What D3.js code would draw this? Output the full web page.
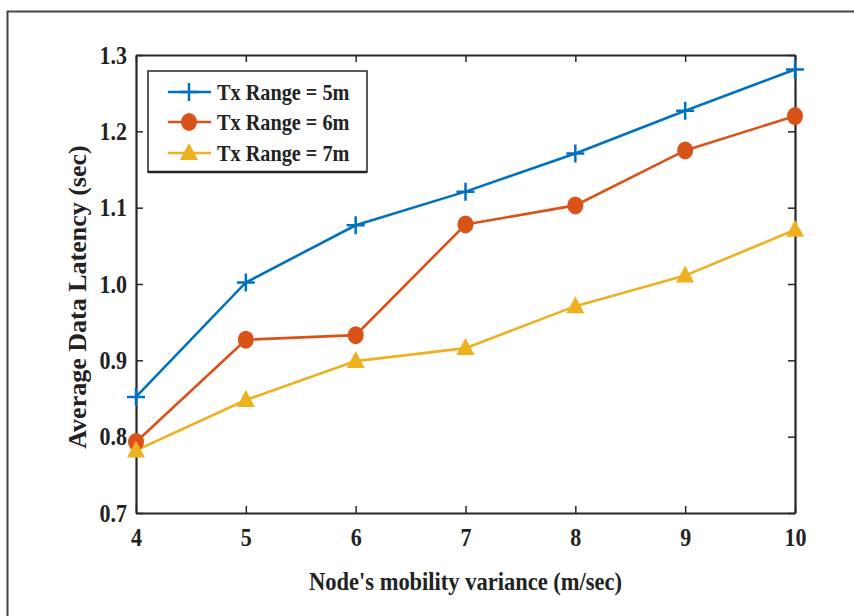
<!DOCTYPE html>
<html><head><meta charset="utf-8">
<script src="https://cdn.jsdelivr.net/npm/d3@7"></script>
<style>
body{margin:0;background:#fff;}
svg text{font-family:"Liberation Serif","Times New Roman",serif;font-weight:bold;fill:#222;}
.cond{transform-box:fill-box;}
</style></head>
<body>
<svg id="c" width="854" height="616"></svg>
<script>
const xValues = [4,5,6,7,8,9,10];
const seriesNames = ["Tx Range = 5m","Tx Range = 6m","Tx Range = 7m"];
const tx5 = [0.852,1.002,1.077,1.121,1.171,1.227,1.281];
const tx6 = [0.793,0.927,0.933,1.078,1.103,1.175,1.220];
const tx7 = [0.782,0.848,0.899,0.916,0.971,1.011,1.071];
const yTicks = [0.7,0.8,0.9,1.0,1.1,1.2,1.3];
const xTicks = [4,5,6,7,8,9,10];
const colors = ["#0072BD","#D95319","#EDB120"];
const markers = ["plus","circle","triangle"];

const svg = d3.select("#c");
svg.append("rect").attr("x",7.5).attr("y",11.5).attr("width",900).attr("height",700)
  .attr("fill","none").attr("stroke","#444").attr("stroke-width",2);

const L=136,R=795,T=55,B=513;
const x = d3.scaleLinear().domain([4,10]).range([L,R]);
const y = d3.scaleLinear().domain([0.7,1.3]).range([B,T]);

function condense(sel, origin, k){
  sel.classed("cond",true).style("transform-origin",origin).style("transform",`scaleX(${k})`);
}

const g = svg.append("g");
const axColor="#262626";
const xb = g.append("g").attr("transform",`translate(0,${B})`)
  .call(d3.axisBottom(x).tickValues(xTicks).tickSizeInner(-7).tickSizeOuter(0).tickPadding(19).tickFormat(d3.format("d")));
const xt = g.append("g").attr("transform",`translate(0,${T})`)
  .call(d3.axisTop(x).tickValues(xTicks).tickSizeInner(-7).tickSizeOuter(0).tickFormat(""));
const yl = g.append("g").attr("transform",`translate(${L},0)`)
  .call(d3.axisLeft(y).tickValues(yTicks).tickSizeInner(-7).tickSizeOuter(0).tickPadding(9).tickFormat(d3.format(".1f")));
const yr = g.append("g").attr("transform",`translate(${R},0)`)
  .call(d3.axisRight(y).tickValues(yTicks).tickSizeInner(-7).tickSizeOuter(0).tickFormat(""));
[xb,xt,yl,yr].forEach(a=>{
  a.select(".domain").attr("stroke",axColor).attr("stroke-width",2.2);
  a.selectAll(".tick line").attr("stroke",axColor).attr("stroke-width",1.5);
  a.selectAll("text").style("font-size","25px").style("font-family","Liberation Serif, serif").style("font-weight","bold").attr("fill","#222");
});
xb.selectAll(".tick text").attr("dy","0.55em");
condense(xb.selectAll(".tick text"),"center",0.88);
condense(yl.selectAll(".tick text"),"right center",0.88);

// series
const series=[tx5,tx6,tx7];
const line = d3.line().x((d,i)=>x(xValues[i])).y(d=>y(d));
function drawMarker(sel,type,color,cx,cy){
  if(type==="plus"){
    sel.append("path").attr("d",`M${cx-9},${cy}H${cx+9}M${cx},${cy-9}V${cy+9}`)
      .attr("stroke",color).attr("stroke-width",2.5).attr("fill","none");
  } else if(type==="circle"){
    sel.append("ellipse").attr("cx",cx).attr("cy",cy).attr("rx",8).attr("ry",9).attr("fill",color);
  } else {
    sel.append("path").attr("d",`M${cx},${cy-10}L${cx+9},${cy+7}L${cx-9},${cy+7}Z`).attr("fill",color);
  }
}
series.forEach((s,k)=>{
  g.append("path").datum(s).attr("d",line).attr("fill","none")
    .attr("stroke",colors[k]).attr("stroke-width",2.6);
});
series.forEach((s,k)=>{
  const mg=g.append("g");
  s.forEach((v,i)=>drawMarker(mg,markers[k],colors[k],x(xValues[i]),y(v)));
});

// legend
const lg = svg.append("g");
lg.append("rect").attr("x",148).attr("y",71).attr("width",219).attr("height",101)
  .attr("fill","#fff").attr("stroke","#222").attr("stroke-width",1.5);
lg.append("line").attr("x1",148).attr("x2",367).attr("y1",172).attr("y2",172).attr("stroke","#222").attr("stroke-width",2.5);
const rowY=[92,122,153];
seriesNames.forEach((n,k)=>{
  lg.append("line").attr("x1",168).attr("x2",211).attr("y1",rowY[k]).attr("y2",rowY[k])
    .attr("stroke",colors[k]).attr("stroke-width",2.6);
  drawMarker(lg,markers[k],colors[k],189,rowY[k]);
  const t = lg.append("text").attr("x",217).attr("y",rowY[k]).attr("dy","0.35em")
    .style("font-size","23px").text(n);
  condense(t,"left center",0.88);
});

// axis labels
const xl = svg.append("text").attr("x",(L+R)/2).attr("y",590).attr("text-anchor","middle")
  .style("font-size","25px").text("Node's mobility variance (m/sec)");
condense(xl,"center",0.9);
svg.append("g").attr("transform",`translate(86,297) rotate(-90)`)
  .append("text").attr("text-anchor","middle")
  .style("font-size","26px").text("Average Data Latency (sec)");
</script>
</body></html>
